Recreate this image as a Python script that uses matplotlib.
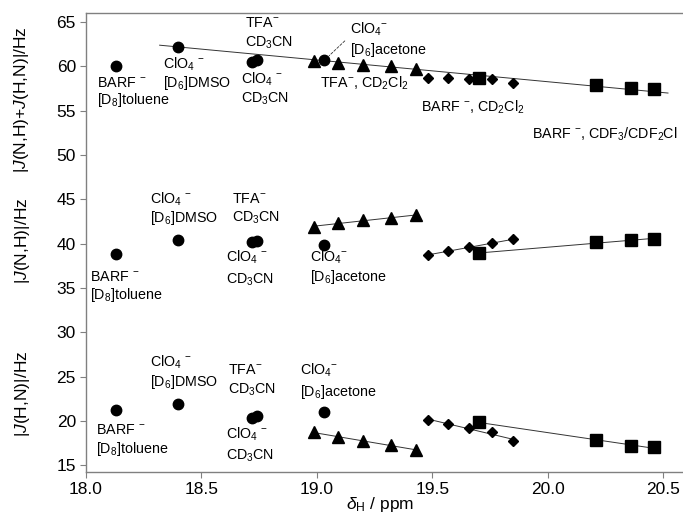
import matplotlib
matplotlib.use("Agg")
import matplotlib.pyplot as plt
import numpy as np

plt.rcParams["font.family"] = ["Liberation Sans", "DejaVu Sans"]
plt.rcParams["mathtext.fontset"] = "custom"
plt.rcParams["mathtext.rm"] = "Liberation Sans"
plt.rcParams["mathtext.it"] = "Liberation Sans:italic"

# delta_H / ppm
circ_x = [18.13, 18.40, 18.72, 18.74, 19.03]
tri_x = [18.99, 19.09, 19.20, 19.32, 19.43]
dia_x = [19.48, 19.57, 19.66, 19.76, 19.85]
sq_x = [19.70, 20.21, 20.36, 20.46]

# |J(N,H)+J(H,N)|
circ_sum = [60.0, 62.2, 60.5, 60.7, 60.7]
tri_sum = [60.6, 60.4, 60.2, 60.0, 59.7]
dia_sum = [58.7, 58.75, 58.6, 58.6, 58.1]
sq_sum = [58.7, 57.9, 57.6, 57.4]

# |J(N,H)|
circ_nh = [38.8, 40.4, 40.2, 40.3, 39.9]
tri_nh = [41.9, 42.3, 42.7, 42.9, 43.2]
dia_nh = [38.7, 39.2, 39.6, 40.05, 40.5]
sq_nh = [38.9, 40.2, 40.4, 40.5]

# |J(H,N)|
circ_hn = [21.2, 21.9, 20.3, 20.5, 21.0]
tri_hn = [18.7, 18.2, 17.7, 17.3, 16.7]
dia_hn = [20.1, 19.66, 19.2, 18.7, 17.7]
sq_hn = [19.85, 17.85, 17.2, 17.0]

# common trend line of the top block
sum_line_x = [18.32, 20.52]
sum_line_y = [62.4, 57.0]

x_ticks = [18.0, 18.5, 19.0, 19.5, 20.0, 20.5]
y_ticks = [15, 20, 25, 30, 35, 40, 45, 50, 55, 60, 65]

fig = plt.figure(figsize=(6.83, 5.15), dpi=100)
ax = fig.add_axes([0.1255, 0.0829, 0.8745, 0.8913])

mk = dict(color="black", linestyle="none", zorder=3)
line_kw = dict(color="#333333", lw=0.7, zorder=2)


def fit_line(xs, ys):
    p = np.polyfit(xs, ys, 1)
    xx = np.array([min(xs), max(xs)])
    ax.plot(xx, np.polyval(p, xx), **line_kw)


ax.plot(sum_line_x, sum_line_y, **line_kw)

for ys_t, ys_d, ys_s in [(tri_nh, dia_nh, sq_nh), (tri_hn, dia_hn, sq_hn)]:
    fit_line(tri_x, ys_t)
    fit_line(dia_x, ys_d)
    fit_line(sq_x, ys_s)

for c, t, d, s in [(circ_sum, tri_sum, dia_sum, sq_sum),
                   (circ_nh, tri_nh, dia_nh, sq_nh),
                   (circ_hn, tri_hn, dia_hn, sq_hn)]:
    ax.plot(circ_x, c, marker="o", ms=7.5, **mk)
    ax.plot(tri_x, t, marker="^", ms=8, **mk)
    ax.plot(dia_x, d, marker="D", ms=5.5, **mk)
    ax.plot(sq_x, s, marker="s", ms=8, **mk)

# labels
fs = 10.3
clo4 = r"ClO$_4$ $^{-}$"
clo4b = r"ClO$_4$$^{-}$"
labels = [
    # top
    (18.05, 58.1, "BARF $^{-}$"), (18.05, 56.2, r"[D$_8$]toluene"),
    (18.334, 60.2, clo4), (18.334, 58.1, r"[D$_6$]DMSO"),
    (18.69, 64.9, r"TFA$^{-}$"), (18.69, 62.7, r"CD$_3$CN"),
    (18.672, 58.5, clo4), (18.672, 56.4, r"CD$_3$CN"),
    (19.143, 64.2, clo4b), (19.143, 61.9, r"[D$_6$]acetone"),
    (19.013, 58.1, r"TFA$^{-}$, CD$_2$Cl$_2$"),
    (19.45, 55.4, r"BARF $^{-}$, CD$_2$Cl$_2$"),
    (19.93, 52.3, r"BARF $^{-}$, CDF$_3$/CDF$_2$Cl"),
    # middle
    (18.278, 45.05, clo4), (18.278, 42.9, r"[D$_6$]DMSO"),
    (18.632, 45.05, r"TFA$^{-}$"), (18.632, 42.9, r"CD$_3$CN"),
    (18.607, 38.5, clo4), (18.607, 35.9, r"CD$_3$CN"),
    (18.02, 36.25, "BARF $^{-}$"), (18.02, 34.2, r"[D$_8$]toluene"),
    (18.97, 38.5, clo4b), (18.97, 36.25, r"[D$_6$]acetone"),
    # bottom
    (18.278, 26.6, clo4), (18.278, 24.4, r"[D$_6$]DMSO"),
    (18.615, 25.7, r"TFA$^{-}$"), (18.615, 23.5, r"CD$_3$CN"),
    (18.926, 25.7, clo4b), (18.926, 23.25, r"[D$_6$]acetone"),
    (18.045, 18.95, "BARF $^{-}$"), (18.045, 16.8, r"[D$_8$]toluene"),
    (18.607, 18.5, clo4), (18.607, 16.1, r"CD$_3$CN"),
]
for x, y, s in labels:
    ax.text(x, y, s, fontsize=fs, ha="left", va="center")

# dashed leader to the acetone circle
ax.annotate("", xy=(19.045, 61.0), xytext=(19.13, 63.1),
            arrowprops=dict(arrowstyle="-", linestyle=(0, (3, 2)), lw=0.6, color="#333333"))

ax.set_xlim(18.0, 20.585)
ax.set_ylim(14.2, 66.0)
ax.set_xticks(x_ticks)
ax.set_xticklabels([f"{v:.1f}" for v in x_ticks])
ax.set_yticks(y_ticks)
ax.tick_params(direction="out", length=4, width=0.8, color="#808080", labelsize=12.5, pad=3)

for side in ["left", "bottom", "top"]:
    ax.spines[side].set_color("#808080")
    ax.spines[side].set_linewidth(1.0)
ax.spines["right"].set_visible(False)

fig.text(22 / 683, 1 - 100 / 515, r"|$J$(N,H)+$J$(H,N)|/Hz", rotation=90, fontsize=12.5,
         ha="center", va="center")
fig.text(22 / 683, 1 - 241 / 515, r"|$J$(N,H)|/Hz", rotation=90, fontsize=12.5,
         ha="center", va="center")
fig.text(22 / 683, 1 - 394 / 515, r"|$J$(H,N)|/Hz", rotation=90, fontsize=12.5,
         ha="center", va="center")
fig.text(380 / 683, 1 - 505 / 515, r"$\delta_{\rm H}$ / ppm", fontsize=12.5,
         ha="center", va="center")

fig.savefig("out.png", dpi=100)
